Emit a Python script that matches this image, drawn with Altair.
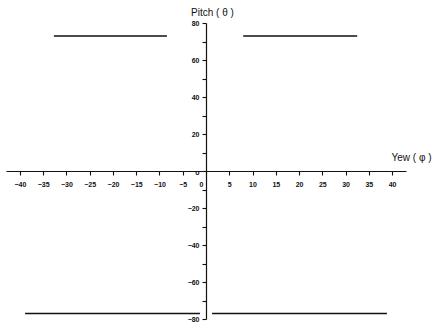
import altair as alt
import pandas as pd

# segment id, yaw (phi) and pitch (theta) values
segment = ["top_left", "top_left", "top_right", "top_right",
           "bottom_left", "bottom_left", "bottom_right", "bottom_right"]
yaw = [-32.7, -8.4, 8.0, 32.5, -38.9, -1.3, 1.3, 38.9]
pitch = [73, 73, 73, 73, -77, -77, -77, -77]

x_ticks = [-40, -35, -30, -25, -20, -15, -10, -5, 0, 5, 10, 15, 20, 25, 30, 35, 40]
y_ticks = [-80, -70, -60, -50, -40, -30, -20, -10, 0, 10, 20, 30, 40, 50, 60, 70, 80]

lines_df = pd.DataFrame({"segment": segment, "yaw": yaw, "pitch": pitch})

W, H = 400, 296
FONT = "Liberation Sans"

x_scale = alt.Scale(domain=[-43, 43], nice=False, zero=False)
y_scale = alt.Scale(domain=[-80, 80], nice=False, zero=False)

x_axis = alt.Axis(
    values=x_ticks, orient="bottom", offset=-H / 2, grid=False,
    labelOffset={"condition": {"test": "datum.value == 0", "value": -5}, "value": 0},
    domainColor="#111", domainWidth=1.2, tickColor="#111", tickSize=4, tickWidth=1.1,
    labelFont=FONT, labelFontSize=7, labelFontWeight="bold", labelColor="#111",
    labelPadding=5, labelFlush=False, labelOverlap=False, labelBound=False,
    title="Yew ( φ )", titleFont=FONT, titleFontSize=10, titleFontWeight="normal",
    titleColor="#111", titleAngle=0, titleX=405, titleY=-14,
    titleAlign="center", titleBaseline="middle",
)
y_axis = alt.Axis(
    values=y_ticks, orient="left", offset=-W / 2, grid=False,
    labelExpr="abs(datum.value) % 20 < 0.5 ? (datum.value == 0 ? 'o' : format(datum.value, 'd')) : ''",
    labelOffset={"condition": {"test": "datum.value == 0", "value": 1}, "value": 0},
    domainColor="#111", domainWidth=1.2, tickColor="#111", tickSize=4, tickWidth=1.1,
    labelFont=FONT, labelFontSize=7, labelFontWeight="bold", labelColor="#111",
    labelPadding=3, labelFlush=False, labelOverlap=False, labelBound=False,
    title="Pitch ( θ )", titleFont=FONT, titleFontSize=10, titleFontWeight="normal",
    titleColor="#111", titleAngle=0, titleX=6, titleY=-11,
    titleAlign="center", titleBaseline="middle",
)

chart = alt.Chart(lines_df).mark_line(color="#111", strokeWidth=1.4).encode(
    x=alt.X("yaw:Q", scale=x_scale, axis=x_axis),
    y=alt.Y("pitch:Q", scale=y_scale, axis=y_axis),
    detail="segment:N",
).properties(
    width=W, height=H,
    autosize=alt.AutoSizeParams(type="none"),
    padding={"left": 6, "top": 23, "right": 28, "bottom": 6},
    background="white",
).configure_view(stroke=None)

chart.save("out.html", embed_options={"renderer": "svg", "actions": False})
